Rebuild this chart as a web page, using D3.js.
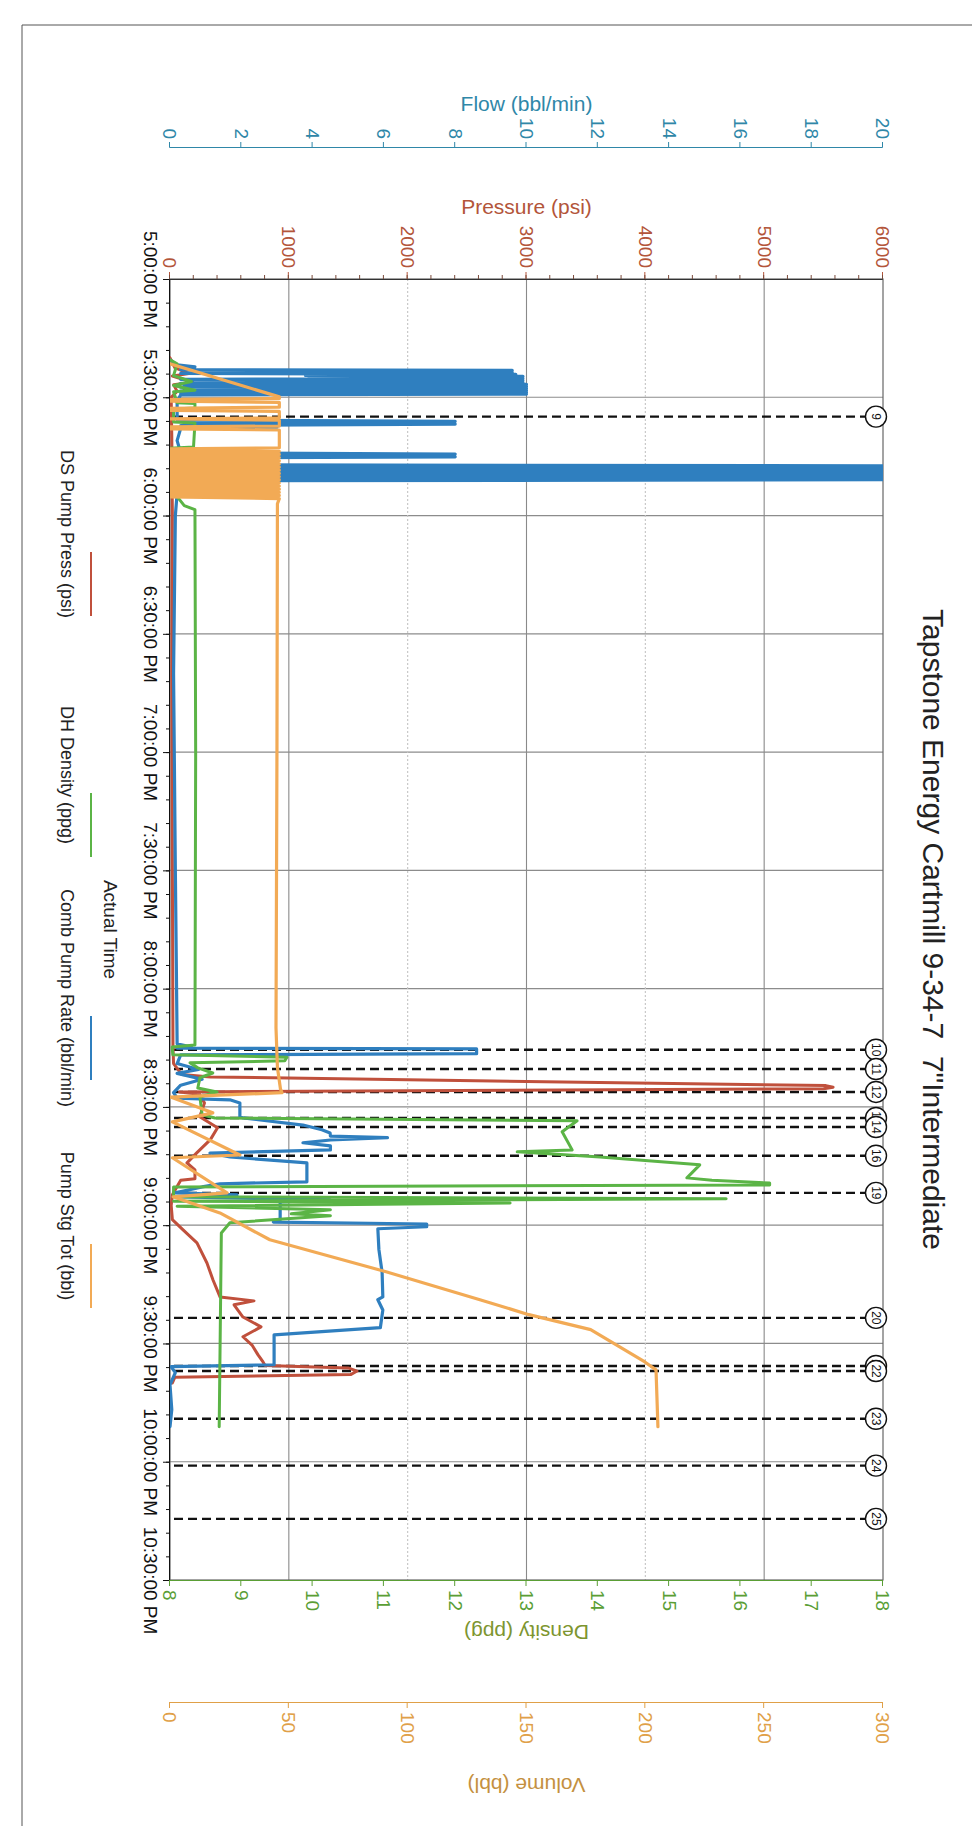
<!DOCTYPE html>
<html>
<head>
<meta charset="utf-8">
<script src="https://cdn.jsdelivr.net/npm/d3@7"></script>
<style>
  html, body { margin: 0; padding: 0; background: #fff; }
  svg { display: block; font-family: "Liberation Sans", Arial, sans-serif; }
</style>
</head>
<body>
<svg id="chart" width="972" height="1826"></svg>
<script>
// all times are minutes after 5:00:00 PM
var seriesNames = ['DS Pump Press (psi)', 'DH Density (ppg)', 'Comb Pump Rate (bbl/min)', 'Pump Stg Tot (bbl)'];

var timeTickMins = [0, 30, 60, 90, 120, 150, 180, 210, 240, 270, 300, 330];
var pressTicks = [0, 1000, 2000, 3000, 4000, 5000, 6000];
var flowTicks = [0, 2, 4, 6, 8, 10, 12, 14, 16, 18, 20];
var densTicks = [8, 9, 10, 11, 12, 13, 14, 15, 16, 17, 18];
var volTicks = [0, 50, 100, 150, 200, 250, 300];

var eventIds = ['9', '10', '11', '12', '13', '14', '16', '19', '20', '21', '22', '23', '24', '25'];
var eventMins = [34.9, 195.5, 200.4, 206.2, 212.8, 215.1, 222.4, 231.8, 263.5, 275.7, 277.0, 289.1, 301.0, 314.5];

// DS Pump Press (psi)
var pressData = [
  [20.0, 0], [22.5, 40], [24.0, 160], [24.6, 20], [26.2, 190], [26.8, 30], [28.5, 60], [30.0, 10],
  [40, 15], [60, 20], [100, 15], [150, 20], [195, 25], [199, 30], [201.8, 100],
  [202.4, 340], [204.6, 5520], [205.0, 5580], [205.4, 5500], [206.2, 80],
  [206.8, 250], [209, 290], [212.5, 250], [215.3, 400], [218.3, 340], [221.6, 227], [224.2, 143],
  [226, 210], [228.2, 210], [228.6, 90], [232.3, 20], [235, 10], [238.6, 20],
  [241.2, 110], [244.5, 227], [249.6, 311], [253.9, 362], [258.2, 421], [259.2, 707], [260.2, 539],
  [263.3, 614], [265.8, 766], [268.3, 614], [270.4, 690], [272.9, 741], [274.7, 783], [275.6, 800],
  [276.2, 1500], [277.0, 1574], [277.9, 1520], [278.6, 40], [280, 20]
];

// DH Density (ppg)
var densData = [
  [20.5, 8.0], [21.5, 8.1], [24.5, 8.05], [26.0, 8.3], [27.0, 8.05], [28.2, 8.35], [28.6, 8.05],
  [31.4, 8.1], [31.6, 8.35], [32.7, 8.35], [33.0, 8.05], [36.3, 8.05], [36.5, 8.35], [42.6, 8.33],
  [42.9, 8.0], [47, 8.05], [53.5, 8.1], [54.3, 8.9], [54.8, 8.8], [55.2, 8.1], [57.5, 8.2],
  [58.5, 8.35], [120, 8.36], [194.3, 8.35], [194.8, 8.03], [196.8, 8.04], [197.4, 9.64],
  [198.3, 9.61], [198.8, 8.28], [200.1, 8.39], [201.4, 8.6], [202.6, 8.42], [205.2, 8.39],
  [206.2, 8.66], [207.5, 8.42], [212, 8.45], [212.8, 8.63], [213.5, 13.71], [216.3, 13.5],
  [220.9, 13.64], [221.4, 12.87], [222.7, 14.03], [224.7, 15.43], [228.0, 15.25], [228.6, 15.6],
  [229.3, 16.41], [229.8, 16.41], [230.3, 8.05], [232.8, 8.05], [233.3, 15.8], [233.9, 8.05],
  [234.4, 12.77], [235.2, 8.1], [236.1, 10.25], [237.1, 9.7], [237.6, 10.25], [239.4, 8.84],
  [242, 8.72], [291.1, 8.69]
];

// Comb Pump Rate (bbl/min)
var flowData = [
  [20.5, 0], [21.8, 0.2], [22.3, 0.7], [22.8, 0.3],
  [23.0, 0.3], [23.2, 9.6], [23.45, 0.4], [23.7, 9.6], [23.95, 0.3], [24.2, 9.7], [24.45, 3.8],
  [24.7, 9.9], [24.95, 3.9], [25.2, 9.9], [25.45, 0.3], [25.7, 9.9], [25.95, 0.5], [26.2, 9.9],
  [26.45, 0.3], [26.7, 10], [26.95, 0.4], [27.2, 10], [27.45, 0.3], [27.7, 10], [27.95, 0.4],
  [28.2, 10], [28.45, 0.3], [28.7, 10], [28.95, 0.3], [29.2, 10], [29.4, 0.3],
  [31, 0.2], [35.8, 0.2], [36.1, 8.0], [36.5, 0.4], [36.8, 8.0], [37.2, 0.3], [37.6, 3.0], [37.9, 0.3],
  [41, 0.2], [44.1, 0.3], [44.4, 8.0], [44.8, 0.5], [45.1, 8.0], [45.4, 0.3], [47.1, 0.3],
  [47.4, 20], [47.8, 0.4], [48.1, 20], [48.5, 0.3], [48.8, 20], [49.2, 0.4], [49.5, 20], [49.9, 0.3],
  [50.2, 20], [50.6, 0.4], [50.9, 20], [51.2, 0.3],
  [52.3, 0.3], [52.6, 2.0], [52.9, 0.3], [54.0, 1.5], [54.4, 0.2],
  [60, 0.15], [100, 0.1], [150, 0.15], [194, 0.2], [194.8, 0.6], [195.1, 0.2],
  [195.3, 8.6], [196.5, 8.6], [196.8, 0.3],
  [199, 0.2], [200.5, 0.8], [201.5, 0.2], [203, 0.9], [204.5, 0.3], [206.4, 0.1], [207.8, 0.2],
  [208.2, 1.68], [209, 1.96], [212.5, 1.96], [212.8, 2.05], [214.6, 3.73], [215.8, 4.26],
  [216.6, 4.49], [217.4, 4.5], [217.8, 6.1], [218.4, 4.5], [219.1, 3.73], [219.9, 4.5], [220.9, 4.5],
  [221.7, 1.12], [222.7, 1.68], [224.2, 3.84], [229, 3.84], [229.5, 1.4], [230.3, 0.9], [231.8, 0.14],
  [232.3, 1.88], [232.8, 0.28], [233.6, 4.49], [234.1, 3.09], [238.6, 3.09], [239.2, 2.9],
  [239.7, 7.2], [240.4, 7.2], [240.9, 5.83], [246.2, 5.86], [252, 5.95], [258.2, 5.97],
  [258.9, 5.83], [261.5, 5.97], [266, 5.9], [267.8, 2.92], [275.4, 2.92], [275.9, 0.03],
  [277.4, 0.15], [280.5, 0.0], [286.8, 0.05], [291.1, 0]
];

// Pump Stg Tot (bbl)
var volData = [
  [21.5, 0], [29.9, 46], [30.3, 46], [30.6, 0], [31.0, 0], [31.3, 46], [32.5, 46], [32.8, 0],
  [33.3, 0], [33.6, 46], [35.2, 46], [35.5, 0], [35.8, 46], [37.3, 46], [37.5, 0], [38.0, 0],
  [38.3, 46], [42.8, 46], [43.1, 0], [43.4, 0], [43.7, 46], [44.1, 0], [44.5, 46], [44.9, 0],
  [45.3, 46], [45.7, 0], [46.1, 46], [46.5, 0], [46.9, 46], [47.3, 0], [47.7, 46], [48.1, 0],
  [48.5, 46], [48.9, 0], [49.3, 46], [49.7, 0], [50.1, 46], [50.5, 0], [50.9, 46], [51.3, 0],
  [51.7, 46], [52.1, 0], [52.5, 46], [52.9, 0], [53.3, 46], [53.7, 0], [54.1, 46], [54.5, 0],
  [54.9, 46], [55.3, 0], [55.7, 46], [57, 45.2], [120, 45.0], [190, 44.6], [200, 45.2],
  [205.5, 46.5], [206.4, 47.1], [207.5, 0.2], [211.5, 18], [213.8, 1], [222.2, 29.4], [222.9, 1],
  [231.8, 24], [232.8, 1.3], [236.9, 21], [243.7, 42], [251.8, 90.9], [258.9, 130.4],
  [262.7, 151], [266.5, 177], [274.7, 199.8], [276.7, 204.5], [291.1, 205.3]
];

var base = new Date(2017, 5, 1, 17, 0, 0);
function at(m) { return new Date(base.getTime() + m * 60000); }

var W = 972;
var plotL = 279, plotR = 1580, plotT = 89, plotB = 802;
var font = '"Liberation Sans", Arial, sans-serif';
var col = { press: '#c0503c', dens: '#5bb446', flow: '#2f7fbf', vol: '#f2aa55' };

var svg = d3.select('#chart');

// page border of the scan
svg.append('line').attr('x1', 22).attr('x2', W).attr('y1', 25).attr('y2', 25).attr('stroke', '#555');
svg.append('line').attr('x1', 22).attr('x2', 22).attr('y1', 25).attr('y2', 1826).attr('stroke', '#555');

// the report is landscape, scanned sideways: draw it flat and turn it 90deg
var page = svg.append('g').attr('transform', 'translate(' + W + ',0) rotate(90)');

var x = d3.scaleTime().domain([at(0), at(330)]).range([plotL, plotR]);
var yP = d3.scaleLinear().domain([0, 6000]).range([plotB, plotT]);
var yF = d3.scaleLinear().domain([0, 20]).range([plotB, plotT]);
var yD = d3.scaleLinear().domain([8, 18]).range([plotB, plotT]);
var yV = d3.scaleLinear().domain([0, 300]).range([plotB, plotT]);

// grid
page.append('g').selectAll('line').data(timeTickMins.slice(1, -1)).join('line')
  .attr('x1', function(d) { return x(at(d)); }).attr('x2', function(d) { return x(at(d)); })
  .attr('y1', plotT).attr('y2', plotB)
  .attr('stroke', '#8c8c8c').attr('stroke-width', 1.2);
page.append('g').selectAll('line').data(pressTicks.slice(1, -1)).join('line')
  .attr('x1', plotL).attr('x2', plotR)
  .attr('y1', function(d) { return yP(d); }).attr('y2', function(d) { return yP(d); })
  .attr('stroke', function(d) { return (d / 1000) % 2 ? '#8a8a8a' : '#c4c4c4'; })
  .attr('stroke-dasharray', function(d) { return (d / 1000) % 2 ? null : '2,2'; })
  .attr('stroke-width', 1.1);
page.append('rect').attr('x', plotL).attr('y', plotT)
  .attr('width', plotR - plotL).attr('height', plotB - plotT)
  .attr('fill', 'none').attr('stroke', '#666').attr('stroke-width', 1.2);

// event markers
var ev = page.append('g');
ev.selectAll('line').data(eventMins).join('line')
  .attr('x1', function(d) { return x(at(d)); }).attr('x2', function(d) { return x(at(d)); })
  .attr('y1', plotB - 4).attr('y2', plotT + 18)
  .attr('stroke', '#111').attr('stroke-width', 2.4).attr('stroke-dasharray', '9,5');

// series
page.append('clipPath').attr('id', 'plotclip').append('rect')
  .attr('x', plotL).attr('y', plotT).attr('width', plotR - plotL).attr('height', plotB - plotT);
var lines = page.append('g').attr('clip-path', 'url(#plotclip)');
function draw(data, y, c, w) {
  lines.append('path').datum(data)
    .attr('fill', 'none').attr('stroke', c).attr('stroke-width', w)
    .attr('stroke-linejoin', 'round').attr('stroke-linecap', 'round')
    .attr('d', d3.line().x(function(d) { return x(at(d[0])); }).y(function(d) { return y(d[1]); }));
}
draw(pressData, yP, col.press, 3);
draw(flowData, yF, col.flow, 3.2);
draw(densData, yD, col.dens, 3);
draw(volData, yV, col.vol, 3.2);

// event circles
var evc = page.append('g').selectAll('g').data(eventMins).join('g')
  .attr('transform', function(d) { return 'translate(' + x(at(d)) + ',' + (plotT + 7) + ')'; });
evc.append('circle').attr('r', 10.5).attr('fill', '#fff').attr('stroke', '#111').attr('stroke-width', 1.4);
evc.append('text').text(function(d, i) { return eventIds[i]; })
  .attr('text-anchor', 'middle').attr('dy', '0.36em')
  .attr('font-size', 12).attr('font-family', font).attr('fill', '#111');

// axes
function style(g, c, fs) {
  g.attr('font-size', fs).attr('font-family', font).attr('color', c);
  return g;
}
var tAx = page.append('g').attr('transform', 'translate(0,' + plotB + ')')
  .call(d3.axisBottom(x).tickValues(timeTickMins.map(at))
    .tickFormat(d3.timeFormat('%-I:%M:%S %p')).tickSize(7).tickPadding(6));
style(tAx, '#111', 19);
page.append('g').attr('transform', 'translate(0,' + plotB + ')')
  .call(d3.axisBottom(x).tickValues(d3.range(0, 331, 6).map(at)).tickSize(4).tickFormat(''))
  .call(function(g) { g.select('.domain').remove(); }).attr('color', '#111');

var pAx = page.append('g').attr('transform', 'translate(' + plotL + ',0)')
  .call(d3.axisLeft(yP).tickValues(pressTicks).tickFormat(d3.format('d')).tickSize(7).tickPadding(4));
style(pAx, '#b3553a', 19);
pAx.select('.domain').attr('stroke', '#333');
page.append('g').attr('transform', 'translate(' + plotL + ',0)')
  .call(d3.axisLeft(yP).tickValues(d3.range(0, 6001, 200)).tickSize(4).tickFormat(''))
  .call(function(g) { g.select('.domain').remove(); }).attr('color', '#7a4a3a');

var fAx = page.append('g').attr('transform', 'translate(147,0)')
  .call(d3.axisLeft(yF).tickValues(flowTicks).tickSize(5).tickPadding(3));
style(fAx, '#2f87a8', 19);

var dAx = page.append('g').attr('transform', 'translate(' + plotR + ',0)')
  .call(d3.axisRight(yD).tickValues(densTicks).tickSize(6).tickPadding(4));
style(dAx, '#5a9e35', 19);

var vAx = page.append('g').attr('transform', 'translate(1702,0)')
  .call(d3.axisRight(yV).tickValues(volTicks).tickSize(6).tickPadding(4));
style(vAx, '#e0a048', 19);

// axis titles
var midY = (plotT + plotB) / 2, midX = (plotL + plotR) / 2;
function title(txt, tx, ty, rot, fs, c) {
  page.append('text').text(txt)
    .attr('transform', 'translate(' + tx + ',' + ty + ') rotate(' + rot + ')')
    .attr('text-anchor', 'middle').attr('dy', '0.35em')
    .attr('font-size', fs).attr('font-family', font).attr('fill', c);
}
title('Flow (bbl/min)', 104, midY, -90, 21, '#2f87a8');
title('Pressure (psi)', 207, midY, -90, 21, '#b3553a');
title('Density (ppg)', 1632, midY, 90, 21, '#7d9530');
title('Volume (bbl)', 1785, midY, 90, 21, '#c49040');
title('Actual Time', midX, 861, 0, 19, '#222');
title('Tapstone Energy Cartmill 9-34-7\u00a0\u00a07"Intermediate', midX, 39, 0, 30, '#222');

// legend
var legendMid = [534, 775, 998, 1226];
var legendCol = [col.press, col.dens, col.flow, col.vol];
var lg = page.append('g').selectAll('g').data(seriesNames).join('g');
lg.append('text').text(function(d) { return d; })
  .attr('x', function(d, i) { return legendMid[i]; }).attr('y', 905).attr('dy', '0.35em')
  .attr('text-anchor', 'middle').attr('font-size', 18).attr('font-family', font).attr('fill', '#222');
lg.append('line')
  .attr('x1', function(d, i) { return legendMid[i] + 18; })
  .attr('x2', function(d, i) { return legendMid[i] + 82; })
  .attr('y1', 881).attr('y2', 881)
  .attr('stroke', function(d, i) { return legendCol[i]; }).attr('stroke-width', 2);
</script>
</body>
</html>
